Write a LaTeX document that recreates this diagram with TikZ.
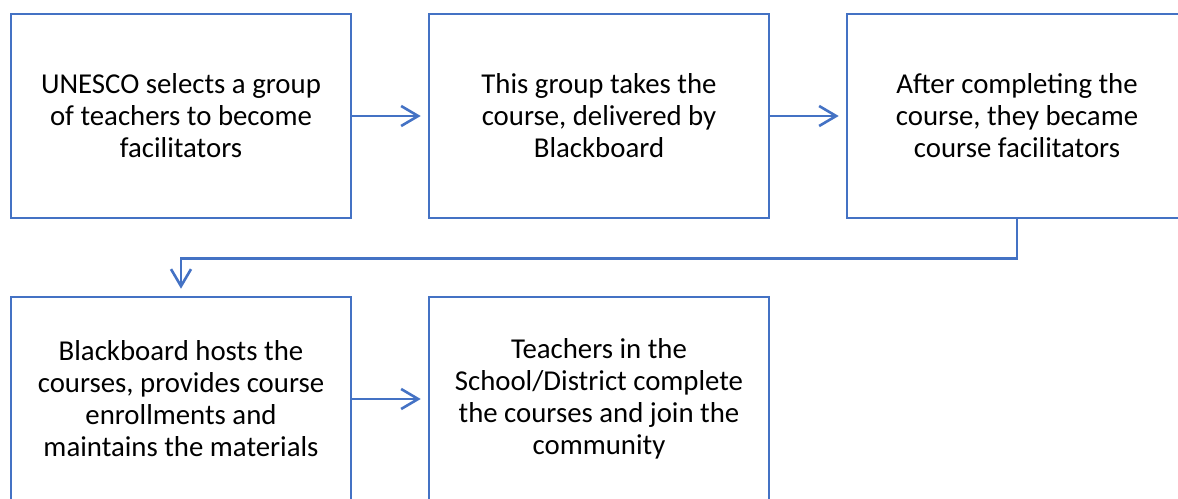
\documentclass[tikz,border=0pt]{standalone}
\usepackage{fontspec}
\setmainfont{Carlito}
\usetikzlibrary{arrows.meta}
\definecolor{boxblue}{HTML}{4472C4}
\begin{document}
\begin{tikzpicture}[x=1pt,y=1pt,
  stepbox/.style={draw=boxblue,line width=2.6pt,minimum width=340pt,minimum height=204pt,
    align=center,inner sep=0pt,font=\fontsize{28.8}{32}\selectfont,text=black},
  flow/.style={draw=boxblue,line width=2.6pt,-{Straight Barb[length=17pt,width=20pt]},shorten >=7pt}]
\useasboundingbox (0,0) rectangle (1178,498);
\clip (0,0) rectangle (1178,498);
\node[stepbox] (a) at (181,382) {UNESCO selects a group\\of teachers to become\\facilitators};
\node[stepbox] (b) at (599,382) {This group takes the\\course, delivered by\\Blackboard};
\node[stepbox] (c) at (1017,382) {After completing the\\course, they became\\course facilitators};
\node[stepbox] (d) at (181,99) {Blackboard hosts the\\courses, provides course\\enrollments and\\maintains the materials};
\node[stepbox] (e) at (599,99) {Teachers in the\\School/District complete\\the courses and join the\\community};
\draw[flow] (a) -- (b);
\draw[flow] (b) -- (c);
\draw[flow] (d) -- (e);
\draw[flow] (c.south) -- ++(0,-39) -| (d.north);
\end{tikzpicture}
\end{document}
